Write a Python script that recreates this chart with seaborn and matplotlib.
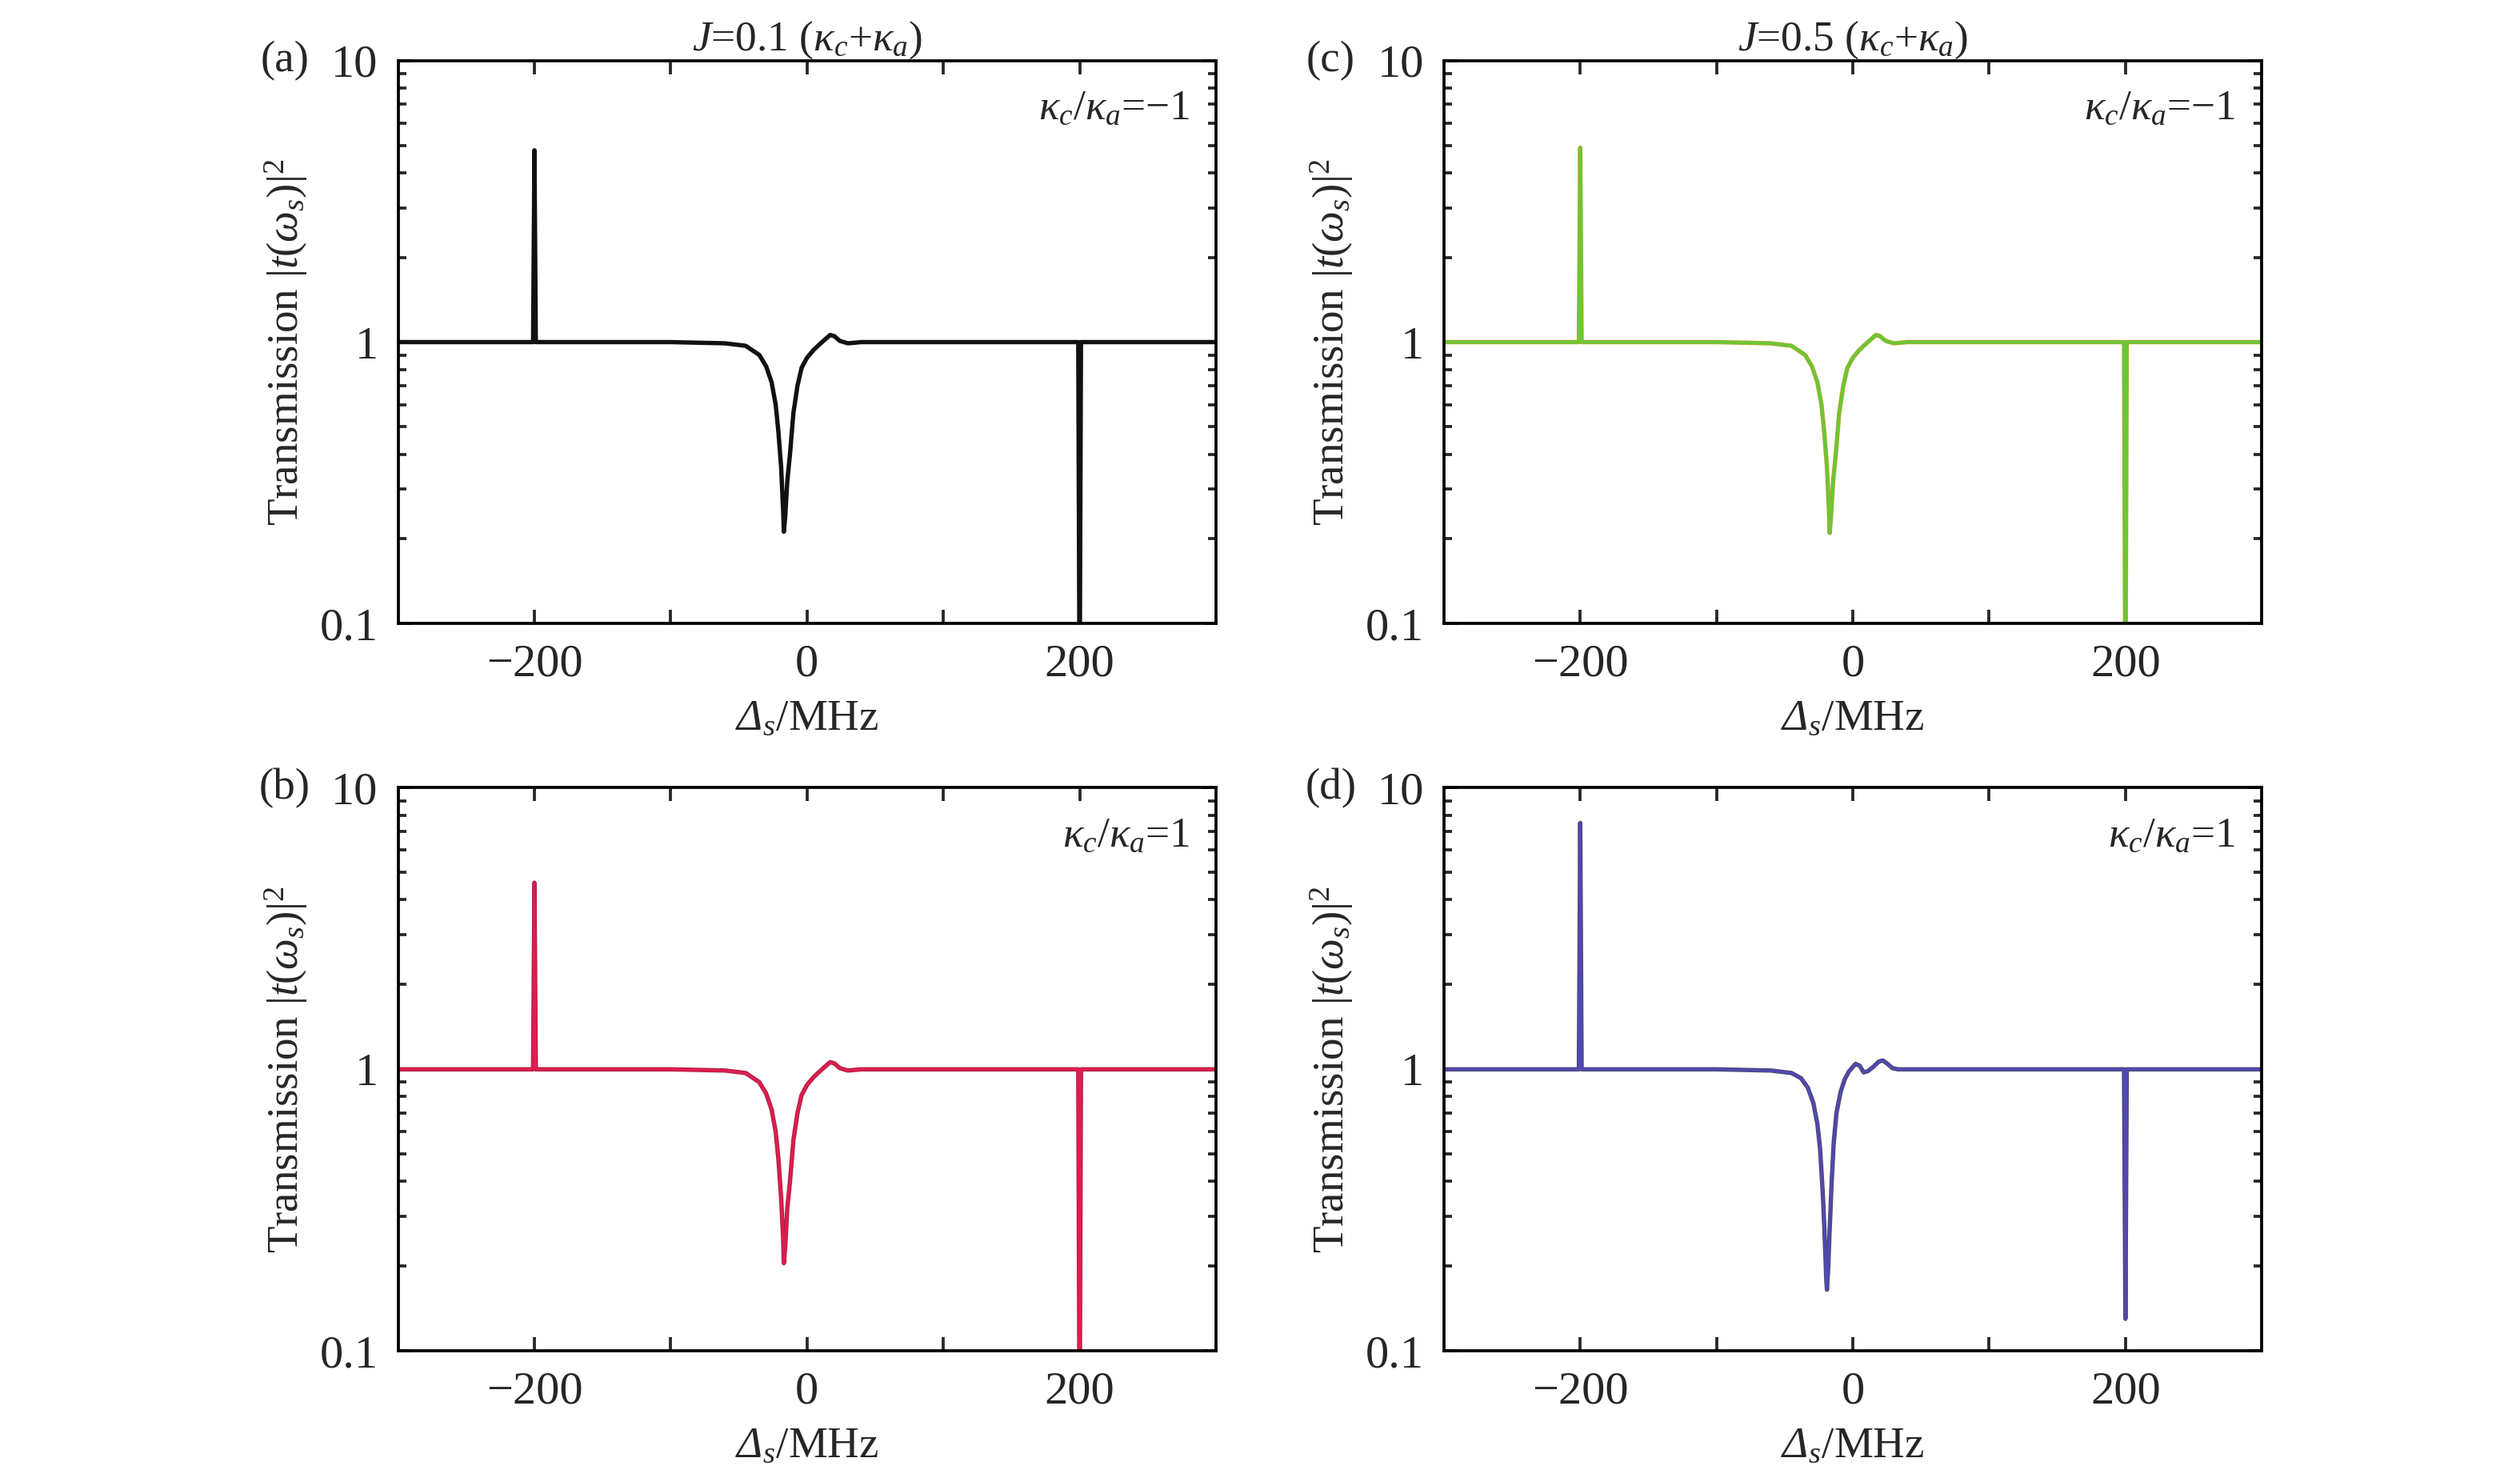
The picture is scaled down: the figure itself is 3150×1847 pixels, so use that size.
import seaborn as sns
from matplotlib import pyplot as plt
import matplotlib.ticker as mtick

# Detuning grid (MHz) for panels (a)-(c), and a finer one for (d)
x_abc = [-300, -201, -200, -199, -100, -60, -45, -35, -30, -26,
         -23, -21, -19, -17.5, -17, -16, -14.5, -12.5, -10, -7,
         -4, 0, 5, 9, 13, 17, 20, 24, 30, 40,
         100, 199, 200, 201, 300]

# Transmission |t|^2
y_a = [1, 1, 4.8, 1, 1, 0.99, 0.97, 0.90, 0.82, 0.72,
       0.60, 0.48, 0.36, 0.25, 0.212, 0.24, 0.32, 0.40, 0.56, 0.70,
       0.81, 0.88, 0.94, 0.98, 1.02, 1.06, 1.05, 1.01, 0.99, 1.0,
       1, 1, 0.05, 1, 1]
y_b = [1, 1, 4.6, 1, 1, 0.99, 0.97, 0.90, 0.82, 0.72,
       0.60, 0.48, 0.35, 0.25, 0.205, 0.235, 0.32, 0.40, 0.56, 0.70,
       0.81, 0.88, 0.94, 0.98, 1.02, 1.06, 1.05, 1.01, 0.99, 1.0,
       1, 1, 0.05, 1, 1]
y_c = [1, 1, 4.9, 1, 1, 0.99, 0.97, 0.90, 0.82, 0.72,
       0.60, 0.48, 0.36, 0.25, 0.21, 0.24, 0.32, 0.40, 0.56, 0.70,
       0.81, 0.88, 0.94, 0.98, 1.02, 1.06, 1.05, 1.01, 0.99, 1.0,
       1, 1, 0.05, 1, 1]

x_d = [-300, -201, -200, -199, -100, -60, -45, -38, -33, -29,
       -26, -24, -22, -21, -20, -19.5, -19, -18, -17, -15.5,
       -14, -12, -9, -6, -3, 0, 2, 5, 8, 11,
       15, 19, 22, 25, 29, 33, 40, 100, 199, 200,
       201, 300]
y_d = [1, 1, 7.5, 1, 1, 0.99, 0.97, 0.93, 0.86, 0.76,
       0.64, 0.52, 0.36, 0.28, 0.21, 0.18, 0.165, 0.20, 0.27, 0.40,
       0.55, 0.70, 0.83, 0.92, 0.98, 1.02, 1.045, 1.03, 0.975, 0.985,
       1.02, 1.065, 1.075, 1.05, 1.01, 1.0, 1.0, 1.0, 1.0, 0.13,
       1.0, 1.0]

panel_tags = ['(a)', '(b)', '(c)', '(d)']
ratio_labels = [r'$\kappa_c$/$\kappa_a$=−1', r'$\kappa_c$/$\kappa_a$=1',
                r'$\kappa_c$/$\kappa_a$=−1', r'$\kappa_c$/$\kappa_a$=1']
column_titles = [r'$J$=0.1 ($\kappa_c$+$\kappa_a$)', r'$J$=0.5 ($\kappa_c$+$\kappa_a$)']

sns.set_style('ticks')
plt.rcParams.update({
    'font.family': ['Liberation Serif', 'DejaVu Serif'],
    'font.size': 12.8,
    'mathtext.fontset': 'custom',
    'mathtext.rm': 'Liberation Serif',
    'mathtext.it': 'Liberation Serif:italic',
    'mathtext.bf': 'Liberation Serif:bold',
    # sans slot used only to get an italic capital Delta
    'mathtext.sf': 'Liberation Serif:italic',
    'axes.linewidth': 0.9,
})


def configure_axes(ax):
    """Log y axis, inward ticks on all four sides, fixed limits."""
    ax.set_yscale('log')
    ax.set_xlim(-300, 300)
    ax.set_ylim(0.1, 10)
    ax.set_xticks([-200, 0, 200])
    ax.set_xticklabels(['−200', '0', '200'])
    ax.xaxis.set_minor_locator(mtick.FixedLocator([-100, 100]))
    ax.set_yticks([0.1, 1, 10])
    ax.set_yticklabels(['0.1', '1', '10'])
    ax.yaxis.set_minor_locator(mtick.LogLocator(base=10, subs=range(2, 10)))
    ax.yaxis.set_minor_formatter(mtick.NullFormatter())
    ax.tick_params(which='both', direction='in', top=True, right=True,
                   width=0.9, pad=6, labelsize=14)
    ax.tick_params(which='major', length=4)
    ax.tick_params(axis='x', which='minor', length=4)
    ax.tick_params(axis='y', which='minor', length=2.5)
    for side in ax.spines.values():
        side.set_visible(True)
        side.set_color('black')
    ax.set_xlabel(r'$\mathsf{\Delta}_s$/MHz', fontsize=13.2)
    ax.set_ylabel(r'Transmission |$t$($\omega_s$)|$^2$', labelpad=3, fontsize=13.2)


def plot_panel(ax, x, y, under, over):
    """Draws a transmission curve as a dark underlay plus a coloured overlay."""
    sns.lineplot(x=x, y=y, ax=ax, color=under, linewidth=1.3,
                 estimator=None, sort=False)
    if over is not None:
        sns.lineplot(x=x, y=y, ax=ax, color=over, linewidth=0.8, alpha=0.75,
                     estimator=None, sort=False)


def main():
    fig = plt.figure(figsize=(10.5, 6.157), dpi=300)
    fig.patch.set_facecolor('white')

    lefts = [0.158, 0.158, 0.573, 0.573]
    bottoms = [0.578, 0.086, 0.578, 0.086]
    width, height = 0.3245, 0.381

    series = [(x_abc, y_a, '#111111', None),
              (x_abc, y_b, '#b01c44', '#f01e54'),
              (x_abc, y_c, '#a4ac2c', '#55d23a'),
              (x_d, y_d, '#4a4a70', '#5448c8')]

    for i in range(4):
        ax = fig.add_axes([lefts[i], bottoms[i], width, height])
        x, y, under, over = series[i]
        plot_panel(ax, x, y, under, over)
        configure_axes(ax)

        ax.text(0.968, 0.915, ratio_labels[i], transform=ax.transAxes,
                ha='right', va='center', fontsize=12.8)
        fig.text(lefts[i] - 0.045, bottoms[i] + height, panel_tags[i],
                 ha='center', va='center', fontsize=13.2)
        if i in (0, 2):
            ax.set_title(column_titles[i // 2], pad=3, fontsize=12.8)

    plt.savefig('out.png', dpi=300, facecolor='white')


if __name__ == "__main__":
    main()
